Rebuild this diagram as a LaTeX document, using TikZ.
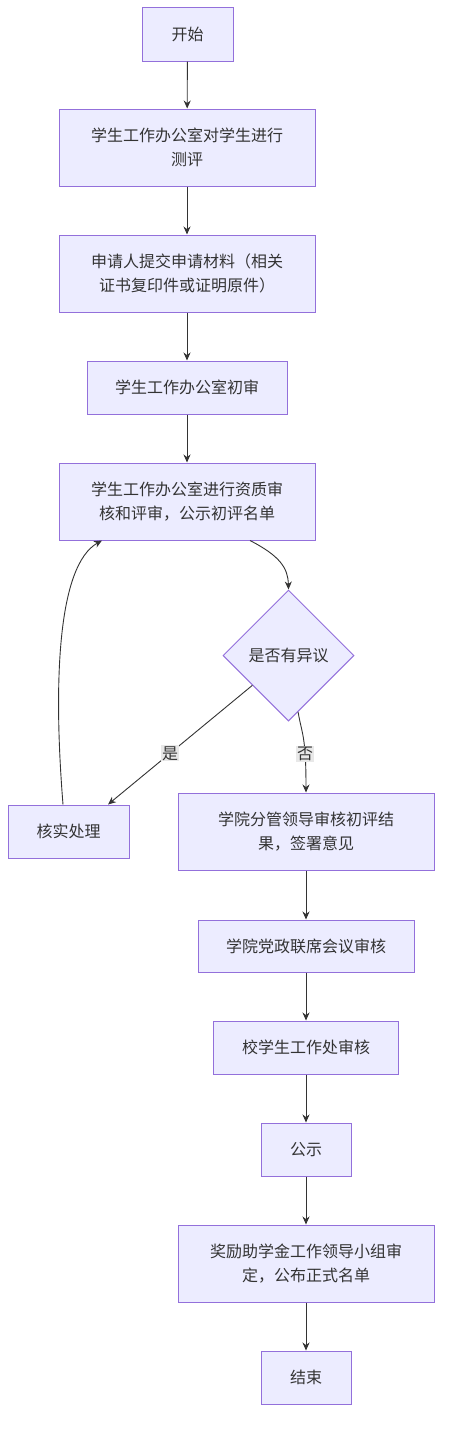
\documentclass[tikz,border=0pt]{standalone}
\usepackage{fontspec}
\usepackage{tikz}
\usetikzlibrary{shapes.geometric,arrows.meta}
\newfontfamily\cjk{Noto Sans CJK SC}
\definecolor{boxfill}{HTML}{ECECFF}
\definecolor{boxline}{HTML}{9370DB}
\definecolor{edge}{HTML}{333333}
\definecolor{lblbg}{HTML}{E8E8E8}

\begin{document}
\begin{tikzpicture}[x=1pt,y=-1pt,
    box/.style={draw=boxline,fill=boxfill,line width=1pt,inner sep=0pt,align=center,text=edge,font=\cjk\fontsize{16}{24}\selectfont},
    choice/.style={box,diamond,minimum width=131pt,minimum height=131pt},
    link/.style={draw=edge,line width=0.9pt,-{Stealth[length=8pt,width=7pt]}},
    lbl/.style={fill=lblbg,inner sep=1pt,text=edge,font=\cjk\fontsize{16}{16}\selectfont}]
    \useasboundingbox (0,0) rectangle (450,1438);
    \node[box,minimum width=91pt,minimum height=54pt] (start) at (187.5,34) {开始};
    \node[box,minimum width=256pt,minimum height=77pt] (s1) at (187,147.5) {学生工作办公室对学生进行\\测评};
    \node[box,minimum width=256pt,minimum height=77pt] (s2) at (187,273.5) {申请人提交申请材料（相关\\证书复印件或证明原件）};
    \node[box,minimum width=200pt,minimum height=53pt] (s3) at (187,387.5) {学生工作办公室初审};
    \node[box,minimum width=256pt,minimum height=77pt] (s4) at (187,501.5) {学生工作办公室进行资质审\\核和评审，公示初评名单};
    \node[choice] (ask) at (288.5,655.5) {是否有异议};
    \node[box,minimum width=121pt,minimum height=53pt] (check) at (68.5,831.5) {核实处理};
    \node[box,minimum width=256pt,minimum height=77pt] (s5) at (306,831.5) {学院分管领导审核初评结\\果，签署意见};
    \node[box,minimum width=216pt,minimum height=52pt] (s6) at (306,946) {学院党政联席会议审核};
    \node[box,minimum width=185pt,minimum height=53pt] (s7) at (306,1047.5) {校学生工作处审核};
    \node[box,minimum width=90pt,minimum height=53pt] (s8) at (306,1149.5) {公示};
    \node[box,minimum width=256pt,minimum height=77pt] (s9) at (306,1263.5) {奖励助学金工作领导小组审\\定，公布正式名单};
    \node[box,minimum width=90pt,minimum height=53pt] (stop) at (306,1377.5) {结束};
    \draw[link] (start) -- (s1);
    \draw[link] (s1) -- (s2);
    \draw[link] (s2) -- (s3);
    \draw[link] (s3) -- (s4);
    \draw[link] ([xshift=63pt]s4.south) .. controls (280,556) and (288,568) .. (ask.north);
    \draw[link] (ask) -- ([xshift=39.5pt]check.north) node[lbl,pos=0.57] {是};
    \draw[link] (ask) .. controls (302,735) and (306,735) .. (s5.north) node[lbl,pos=0.7] {否};
    \draw[link] ([xshift=-5.5pt]check.north) .. controls (53,680) and (58,565) .. ([xshift=-85pt]s4.south);
    \draw[link] (s5) -- (s6);
    \draw[link] (s6) -- (s7);
    \draw[link] (s7) -- (s8);
    \draw[link] (s8) -- (s9);
    \draw[link] (s9) -- (stop);
\end{tikzpicture}
\end{document}
